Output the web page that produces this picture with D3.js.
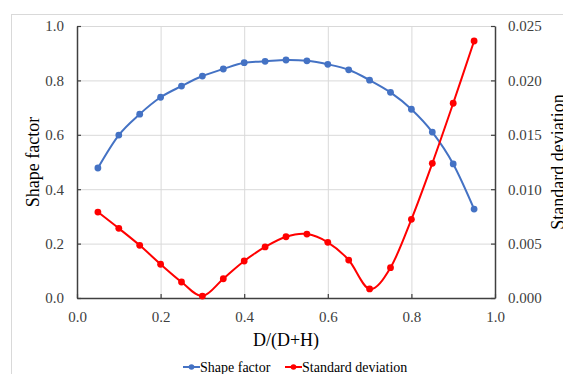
<!DOCTYPE html>
<html>
<head>
<meta charset="utf-8">
<script src="https://cdn.jsdelivr.net/npm/d3@7"></script>
<style>
  body { margin: 0; background: #fff; }
  svg text { font-family: "Liberation Serif", "Times New Roman", Times, "DejaVu Serif", serif; }
</style>
</head>
<body>
<div id="chart"></div>
<script>
// data
const ratio = [0.05, 0.1, 0.15, 0.2, 0.25, 0.3, 0.35, 0.4, 0.45, 0.5,
  0.55, 0.6, 0.65, 0.7, 0.75, 0.8, 0.85, 0.9, 0.95]
const shapeFactor = [0.478, 0.599, 0.676, 0.738, 0.779, 0.816, 0.842, 0.865, 0.870, 0.875,
  0.872, 0.859, 0.839, 0.801, 0.756, 0.694, 0.610, 0.493, 0.327]
const stdDev = [0.0079, 0.0064, 0.00484, 0.0031, 0.00147, 0.00018, 0.00177, 0.0034, 0.00469, 0.00563,
  0.00588, 0.00512, 0.00349, 0.00083, 0.00279, 0.00723, 0.01238, 0.0179, 0.02362]
const xTicks = [0, 0.2, 0.4, 0.6, 0.8, 1.0]
const leftTicks = [0, 0.2, 0.4, 0.6, 0.8, 1.0]
const rightTicks = [0, 0.005, 0.01, 0.015, 0.02, 0.025]

const W = 563, H = 374
const margin = { top: 26, left: 77, right: 68, bottom: 76 }
const width = W - margin.left - margin.right
const height = H - margin.top - margin.bottom

const blue = "#4472c4", red = "#ff0000", axisCol = "#404040", gridCol = "#d9d9d9"

const svg = d3.select("#chart").append("svg")
  .attr("width", W)
  .attr("height", H)

// chart border (runs off the picture on right and bottom)
svg.append("rect")
  .attr("x", 11.5).attr("y", 14.5)
  .attr("width", 600).attr("height", 400)
  .attr("fill", "none").attr("stroke", gridCol)

const g = svg.append("g").attr("transform", `translate(${margin.left},${margin.top})`)

const x = d3.scaleLinear().domain([0, 1]).range([0, width])
const yL = d3.scaleLinear().domain([0, 1]).range([height, 0])
const yR = d3.scaleLinear().domain([0, 0.025]).range([height, 0])

// gridlines
g.append("g").attr("class", "grid")
  .call(d3.axisLeft(yL).tickValues(leftTicks).tickSize(-width).tickFormat(""))
  .call(s => s.select(".domain").remove())
g.append("g").attr("class", "grid")
  .attr("transform", `translate(0,${height})`)
  .call(d3.axisBottom(x).tickValues(xTicks).tickSize(-height).tickFormat(""))
  .call(s => s.select(".domain").remove())
g.selectAll(".grid line").attr("stroke", gridCol).attr("stroke-width", 1)

// axes, ticks point inward
const xAxis = g.append("g")
  .attr("transform", `translate(0,${height})`)
  .call(d3.axisBottom(x).tickValues(xTicks).tickSizeInner(-4).tickSizeOuter(0).tickPadding(13).tickFormat(d3.format(".1f")))
const lAxis = g.append("g")
  .call(d3.axisLeft(yL).tickValues(leftTicks).tickSizeInner(-4).tickSizeOuter(0).tickPadding(13).tickFormat(d3.format(".1f")))
const rAxis = g.append("g")
  .attr("transform", `translate(${width},0)`)
  .call(d3.axisRight(yR).tickValues(rightTicks).tickSizeInner(-4).tickSizeOuter(0).tickPadding(13).tickFormat(d3.format(".3f")))

;[xAxis, lAxis, rAxis].forEach(a => {
  a.attr("font-family", null)
  a.select(".domain").attr("stroke", axisCol).attr("stroke-width", 1.5)
  a.selectAll(".tick line").attr("stroke", axisCol).attr("stroke-width", 1.2)
  a.selectAll("text").attr("fill", "#404040").attr("font-size", 15)
})

// series
const series = [
  { name: "Shape factor", values: shapeFactor, y: yL, color: blue },
  { name: "Standard deviation", values: stdDev, y: yR, color: red }
]

series.forEach(s => {
  const line = d3.line()
    .x((d, i) => x(ratio[i]))
    .y(d => s.y(d))
    .curve(d3.curveCatmullRom.alpha(0))
  g.append("path")
    .datum(s.values)
    .attr("d", line)
    .attr("fill", "none")
    .attr("stroke", s.color)
    .attr("stroke-width", 2)
  g.selectAll(null)
    .data(s.values)
    .join("circle")
    .attr("cx", (d, i) => x(ratio[i]))
    .attr("cy", d => s.y(d))
    .attr("r", 3.4)
    .attr("fill", s.color)
})

// axis titles
svg.append("text")
  .attr("transform", `translate(39,${margin.top + height / 2}) rotate(-90)`)
  .attr("text-anchor", "middle")
  .attr("font-size", 18)
  .attr("fill", "#000")
  .text("Shape factor")
svg.append("text")
  .attr("transform", `translate(564,${margin.top + height / 2}) rotate(-90)`)
  .attr("text-anchor", "middle")
  .attr("font-size", 18)
  .attr("fill", "#000")
  .text("Standard deviation")
svg.append("text")
  .attr("x", margin.left + width / 2)
  .attr("y", 346)
  .attr("text-anchor", "middle")
  .attr("font-size", 18)
  .attr("fill", "#000")
  .text("D/(D+H)")

// legend
const legendX = [183, 285]
series.forEach((s, i) => {
  const lg = svg.append("g").attr("transform", `translate(${legendX[i]},367)`)
  lg.append("line").attr("x1", 0).attr("x2", 17).attr("stroke", s.color).attr("stroke-width", 2)
  lg.append("circle").attr("cx", 8.5).attr("r", 2.8).attr("fill", s.color)
  lg.append("text").attr("x", 17).attr("y", 4.5)
    .attr("font-size", 14).attr("fill", "#000")
    .text(s.name)
})
</script>
</body>
</html>
